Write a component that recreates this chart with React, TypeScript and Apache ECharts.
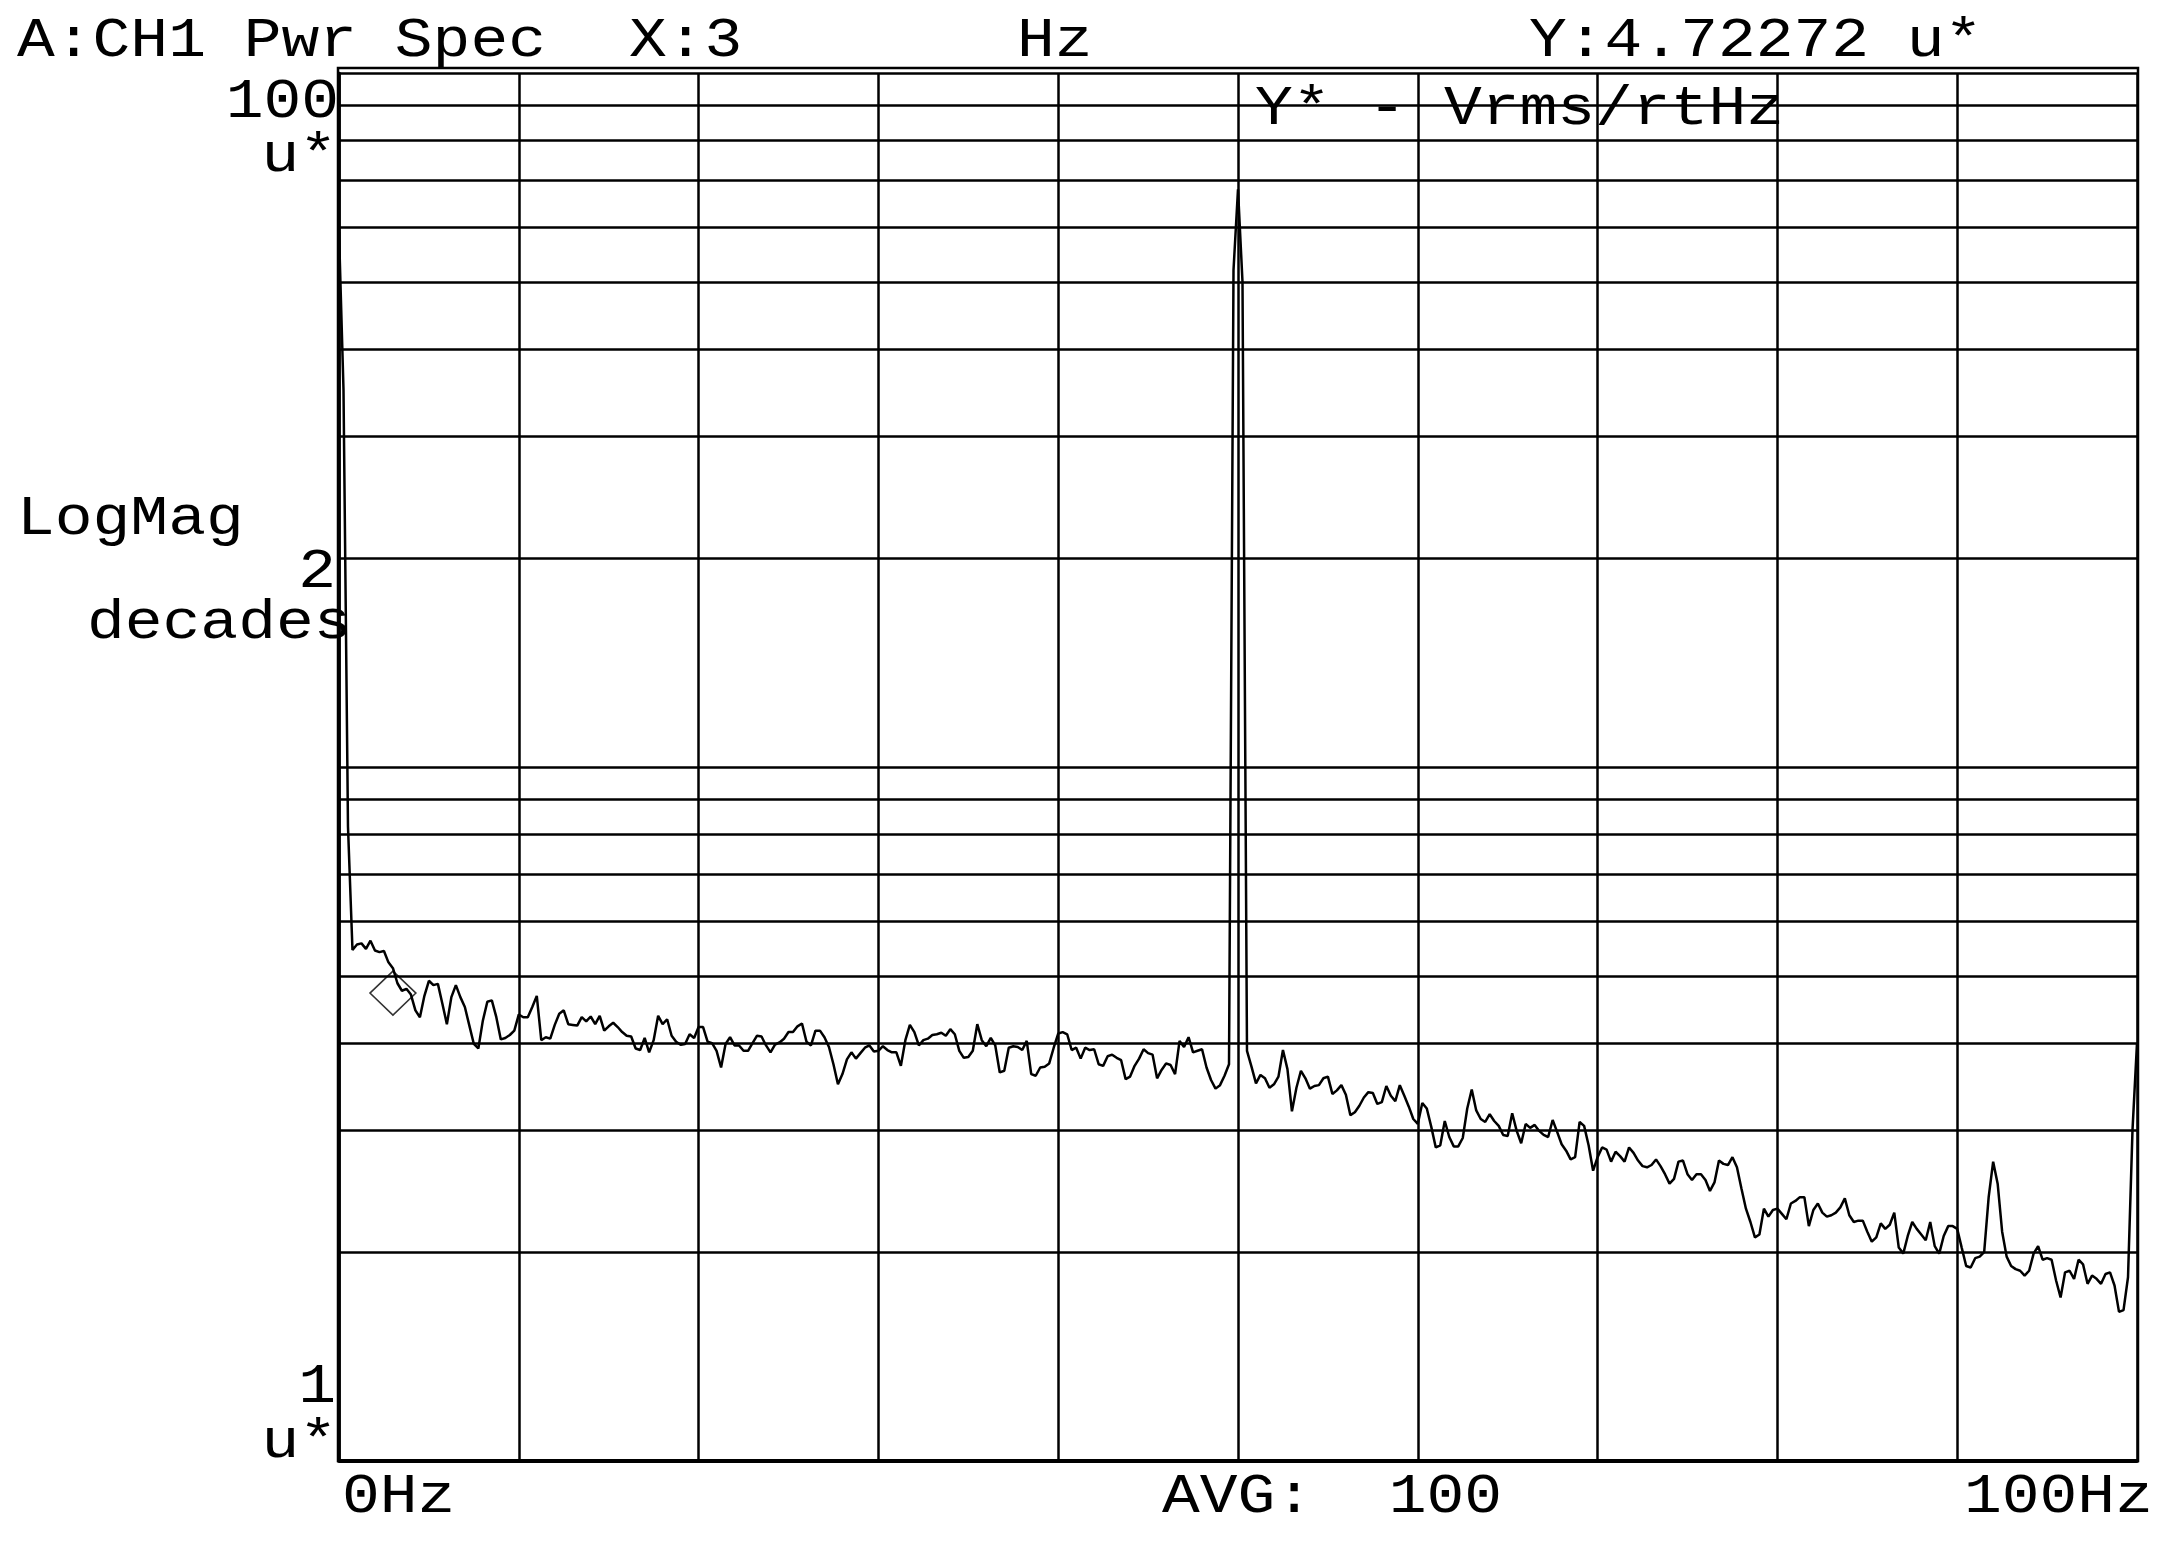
import React, { useEffect, useRef } from "react";
import * as echarts from "echarts";

// ---- data ----
const FREQ_STEP_HZ = 0.25; // FFT bin spacing used for the trace (0..100 Hz)
const X_MIN = 0;
const X_MAX = 100;
const X_INTERVAL = 10;
const Y_MIN = 1;
const Y_MAX = 100;

// Vrms/rtHz in u* units, one value per 0.25 Hz from 0 Hz to 100 Hz
const TRACE_UV: number[] = [
  // 0 .. 25.25 Hz
  59, 35, 8.2, 5.45, 5.55, 5.57, 5.47, 5.62, 5.44, 5.41,
  5.43, 5.23, 5.13, 4.88, 4.76, 4.79, 4.70, 4.46, 4.36, 4.68,
  4.92, 4.85, 4.87, 4.56, 4.26, 4.66, 4.85, 4.66, 4.51, 4.24,
  3.99, 3.93, 4.31, 4.59, 4.61, 4.36, 4.05, 4.07, 4.11, 4.17,
  4.40, 4.36, 4.36, 4.51, 4.68, 4.04, 4.08, 4.06, 4.25, 4.41,
  4.46, 4.26, 4.25, 4.24, 4.36, 4.30, 4.37, 4.26, 4.38, 4.17,
  4.23, 4.28, 4.22, 4.15, 4.10, 4.09, 3.93, 3.91, 4.07, 3.88,
  4.04, 4.38, 4.26, 4.33, 4.10, 4.02, 3.98, 3.99, 4.12, 4.07,
  4.22, 4.22, 4.02, 4.00, 3.90, 3.69, 3.99, 4.08, 3.97, 3.97,
  3.90, 3.90, 4.00, 4.10, 4.09, 3.97, 3.88, 3.98, 4.01, 4.06,
  4.15, 4.15,
  // 25.5 .. 49.5 Hz
  4.23, 4.27, 4.02, 3.97, 4.17, 4.17, 4.08, 3.95, 3.73, 3.49,
  3.61, 3.79, 3.88, 3.80, 3.87, 3.94, 3.97, 3.89, 3.90, 3.96,
  3.91, 3.88, 3.88, 3.71, 4.04, 4.25, 4.15, 3.97, 4.04, 4.06,
  4.11, 4.12, 4.14, 4.10, 4.19, 4.12, 3.90, 3.81, 3.82, 3.90,
  4.26, 4.04, 3.96, 4.07, 3.97, 3.63, 3.65, 3.94, 3.96, 3.95,
  3.91, 4.03, 3.61, 3.59, 3.69, 3.70, 3.74, 3.94, 4.13, 4.15,
  4.12, 3.91, 3.94, 3.80, 3.94, 3.91, 3.92, 3.73, 3.71, 3.83,
  3.85, 3.81, 3.78, 3.55, 3.58, 3.71, 3.80, 3.92, 3.87, 3.85,
  3.56, 3.66, 3.74, 3.72, 3.61, 4.03, 3.95, 4.08, 3.88, 3.90,
  3.92, 3.69, 3.54, 3.44, 3.48, 3.59, 3.73,
  // 49.75 .. 50.75 Hz (line spike)
  52, 68, 50, 3.9, 3.70,
  // 51 .. 75.25 Hz
  3.50, 3.60, 3.56, 3.45, 3.49, 3.58, 3.91, 3.67, 3.19, 3.45,
  3.65, 3.56, 3.44, 3.47, 3.48, 3.56, 3.58, 3.38, 3.42, 3.48,
  3.37, 3.15, 3.18, 3.25, 3.34, 3.40, 3.39, 3.27, 3.29, 3.47,
  3.36, 3.30, 3.48, 3.36, 3.24, 3.11, 3.06, 3.28, 3.22, 3.03,
  2.83, 2.85, 3.09, 2.93, 2.84, 2.84, 2.92, 3.22, 3.43, 3.20,
  3.11, 3.08, 3.16, 3.09, 3.04, 2.95, 2.94, 3.17, 2.99, 2.87,
  3.06, 3.02, 3.05, 2.99, 2.95, 2.93, 3.10, 2.98, 2.86, 2.80,
  2.72, 2.74, 3.08, 3.04, 2.85, 2.62, 2.74, 2.83, 2.81, 2.70,
  2.79, 2.75, 2.70, 2.83, 2.78, 2.71, 2.66, 2.65, 2.67, 2.72,
  2.66, 2.59, 2.51, 2.55, 2.70, 2.71, 2.59, 2.54,
  // 75.5 .. 100 Hz
  2.59, 2.59, 2.54, 2.45, 2.52, 2.71, 2.68, 2.67, 2.74, 2.65,
  2.47, 2.31, 2.21, 2.10, 2.12, 2.31, 2.25, 2.30, 2.31, 2.27,
  2.23, 2.35, 2.37, 2.40, 2.40, 2.18, 2.30, 2.35, 2.28, 2.25,
  2.26, 2.28, 2.32, 2.39, 2.26, 2.21, 2.22, 2.22, 2.14, 2.07,
  2.10, 2.20, 2.16, 2.19, 2.28, 2.03, 1.99, 2.11, 2.21, 2.16,
  2.12, 2.08, 2.21, 2.04, 1.99, 2.11, 2.18, 2.18, 2.16, 2.03,
  1.91, 1.90, 1.96, 1.97, 2.00, 2.40, 2.70, 2.51, 2.14, 1.97,
  1.91, 1.89, 1.88, 1.85, 1.88, 1.99, 2.04, 1.95, 1.96, 1.95,
  1.82, 1.72, 1.87, 1.88, 1.83, 1.95, 1.92, 1.80, 1.85, 1.83,
  1.80, 1.86, 1.87, 1.79, 1.64, 1.65, 1.84, 3.0, 4.0,
];

// minor log grid levels (u*)
const MINOR_LEVELS = [2, 3, 4, 5, 6, 7, 8, 9, 20, 30, 40, 50, 60, 70, 80, 90];

// marker readout
const MARKER_X_HZ = 3;
const MARKER_Y_U = 4.72272;

// texts
const TXT_TITLE = "A:CH1 Pwr Spec";
const TXT_X = "X:3";
const TXT_HZ = "Hz";
const TXT_Y = "Y:4.72272 u*";
const TXT_UNITS = "Y* - Vrms/rtHz";
const TXT_YTOP = "100";
const TXT_YUNIT = "u*";
const TXT_LOGMAG = "LogMag";
const TXT_DECNUM = "2";
const TXT_DEC = "decades";
const TXT_YBOT = "1";
const TXT_X0 = "0Hz";
const TXT_AVG = "AVG:  100";
const TXT_XEND = "100Hz";

const FONT = '55px "Liberation Mono", "DejaVu Sans Mono", monospace';
const TEXT_SCALE_X = 1.145;

function txt(text: string, x: number, y: number, align: string = "left") {
  return {
    type: "text",
    x,
    y,
    z: 100,
    scaleX: TEXT_SCALE_X,
    silent: true,
    style: {
      text,
      font: FONT,
      fill: "#000",
      textAlign: align,
      textVerticalAlign: "middle",
    },
  };
}

export default function App() {
  const ref = useRef<HTMLDivElement>(null);

  useEffect(() => {
    if (!ref.current) return;
    const chart = echarts.init(ref.current, null, { renderer: "svg" });

    const traceData = TRACE_UV.map((v, i) => [i * FREQ_STEP_HZ, v]);

    const option: any = {
      animation: false,
      backgroundColor: "#ffffff",
      grid: { left: 339, right: 32, top: 73, bottom: 83, containLabel: false },
      xAxis: {
        type: "value",
        min: X_MIN,
        max: X_MAX,
        interval: X_INTERVAL,
        axisLabel: { show: false },
        axisTick: { show: false },
        axisLine: { show: true, onZero: false, lineStyle: { color: "#000", width: 4 } },
        splitLine: { show: true, lineStyle: { color: "#000", width: 2.5 } },
      },
      yAxis: {
        type: "log",
        logBase: 10,
        min: Y_MIN,
        max: Y_MAX,
        axisLabel: { show: false },
        axisTick: { show: false },
        axisLine: { show: true, lineStyle: { color: "#000", width: 2.5 } },
        splitLine: { show: true, lineStyle: { color: "#000", width: 2.5 } },
      },
      series: [
        {
          type: "line",
          data: traceData,
          showSymbol: false,
          symbol: "none",
          lineStyle: { color: "#000", width: 2.5 },
          z: 5,
          markLine: {
            silent: true,
            symbol: ["none", "none"],
            label: { show: false },
            lineStyle: { color: "#000", width: 2.5, type: "solid" },
            data: MINOR_LEVELS.map((v) => ({ yAxis: v })),
          },
        },
        {
          type: "scatter",
          data: [[MARKER_X_HZ, MARKER_Y_U]],
          symbol: "diamond",
          symbolSize: [46, 44],
          itemStyle: { color: "rgba(0,0,0,0)", borderColor: "#000", borderWidth: 1.5 },
          z: 6,
        },
      ],
      graphic: [
        {
          type: "rect",
          z: 50,
          silent: true,
          shape: { x: 338, y: 68, width: 1800, height: 1393 },
          style: { fill: "none", stroke: "#000", lineWidth: 2.5 },
        },
        txt(TXT_TITLE, 17, 42),
        txt(TXT_X, 629, 42),
        txt(TXT_HZ, 1017, 42),
        txt(TXT_Y, 1529, 42),
        txt(TXT_UNITS, 1255, 110),
        txt(TXT_YTOP, 339, 103, "right"),
        txt(TXT_YUNIT, 337, 157, "right"),
        txt(TXT_LOGMAG, 17, 520),
        txt(TXT_DECNUM, 336, 573, "right"),
        txt(TXT_DEC, 87, 624),
        txt(TXT_YBOT, 336, 1388, "right"),
        txt(TXT_YUNIT, 337, 1443, "right"),
        txt(TXT_X0, 342, 1498),
        txt(TXT_AVG, 1162, 1498),
        txt(TXT_XEND, 1964, 1498),
      ],
    };

    chart.setOption(option);
    return () => chart.dispose();
  }, []);

  return (
    <div
      ref={ref}
      style={{ position: "fixed", left: 0, top: 0, width: 2169, height: 1544, background: "#fff" }}
    />
  );
}
